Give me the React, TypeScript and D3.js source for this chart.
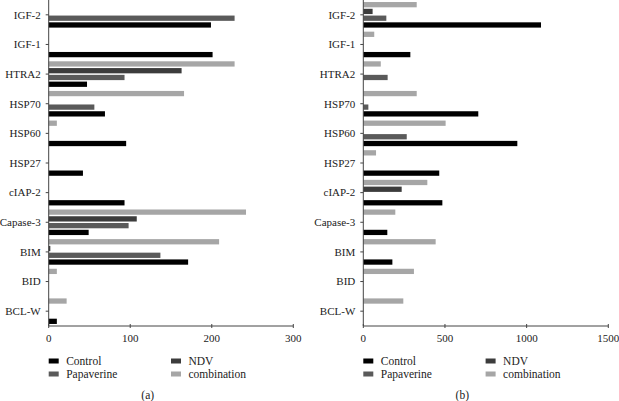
import React, { useEffect } from "react";
import * as d3 from "d3";

const categories = ["IGF-2", "IGF-1", "HTRA2", "HSP70", "HSP60", "HSP27", "cIAP-2", "Capase-3", "BIM", "BID", "BCL-W"];
const seriesNames = ["combination", "NDV", "Papaverine", "Control"];

const leftControl = [199, 201, 47, 69, 95, 42, 93, 49, 171, 0, 10];
const leftPapaverine = [228, 0, 93, 56, 0, 0, 0, 98, 137, 0, 0];
const leftNDV = [0, 0, 163, 0, 0, 0, 0, 108, 2, 0, 0];
const leftCombination = [0, 0, 228, 166, 10, 0, 0, 242, 209, 10, 22];
const leftTicks = [0, 100, 200, 300];

const rightControl = [1088, 288, 0, 704, 943, 465, 484, 147, 178, 0, 0];
const rightPapaverine = [141, 0, 149, 31, 266, 0, 0, 0, 0, 0, 0];
const rightNDV = [57, 0, 0, 0, 0, 0, 235, 0, 0, 0, 0];
const rightCombination = [327, 67, 107, 327, 504, 78, 392, 196, 443, 310, 245];
const rightTicks = [0, 500, 1000, 1500];

const colors: Record<string, string> = {
  Control: "#000000",
  Papaverine: "#5a5a5a",
  NDV: "#3c3c3c",
  combination: "#a6a6a6",
};

const FONT = "Liberation Serif, Times New Roman, DejaVu Serif, serif";

type PanelProps = {
  x0: number;
  x1: number;
  maxVal: number;
  ticks: number[];
  data: Record<string, number[]>;
  label: string;
};

const textStyle = (size: number): React.CSSProperties => ({ fontFamily: FONT, fontSize: size + "px" });

function Panel({ x0, x1, maxVal, ticks, data, label }: PanelProps) {
  const x = d3.scaleLinear().domain([0, maxVal]).range([x0, x1]);
  const y = d3.scaleBand<string>().domain(categories).range([0, 326]).paddingInner(0).paddingOuter(0);
  const sub = d3.scaleBand<string>().domain(seriesNames).range([0, y.bandwidth()]).paddingInner(0.22).paddingOuter(0.3);
  const axisY = 326;
  const legendItems = [
    { name: "Control", dx: 0, row: 0 },
    { name: "Papaverine", dx: 0, row: 1 },
    { name: "NDV", dx: 122.3, row: 0 },
    { name: "combination", dx: 122.3, row: 1 },
  ];
  return (
    <g>
      {categories.map((c, i) =>
        seriesNames.map((s) => {
          const v = data[s][i];
          if (!v) return null;
          return (
            <rect
              key={c + s}
              x={x(0)}
              y={(y(c) as number) + (sub(s) as number)}
              width={x(v) - x(0)}
              height={sub.bandwidth()}
              fill={colors[s]}
            />
          );
        })
      )}
      <line x1={x0} x2={x0} y1={0} y2={axisY} stroke="#444" strokeWidth={1} />
      <line x1={x0} x2={x1} y1={axisY} y2={axisY} stroke="#444" strokeWidth={1} />
      {categories.map((c) => {
        const cy = (y(c) as number) + y.bandwidth() / 2;
        return (
          <g key={c}>
            <line x1={x0 - 3} x2={x0} y1={cy} y2={cy} stroke="#444" />
            <text x={x0 - 8} y={cy} dy="0.35em" textAnchor="end" style={textStyle(11)} fill="#222">
              {c}
            </text>
          </g>
        );
      })}
      {ticks.map((t) => (
        <g key={t}>
          <line x1={x(t)} x2={x(t)} y1={axisY - 2} y2={axisY + 2} stroke="#444" />
          <text x={x(t)} y={axisY + 12} dy="0.35em" textAnchor="middle" style={textStyle(11)} fill="#222">
            {t}
          </text>
        </g>
      ))}
      {legendItems.map((l) => (
        <g key={l.name}>
          <rect x={x0 + l.dx} y={358.5 + l.row * 13} width={10} height={5} fill={colors[l.name]} />
          <text x={x0 + l.dx + 17.5} y={361 + l.row * 13} dy="0.35em" style={textStyle(11.5)} fill="#222">
            {l.name}
          </text>
        </g>
      ))}
      <text x={x0 + 99} y={395} dy="0.35em" textAnchor="middle" style={textStyle(11.5)} fill="#222">
        {label}
      </text>
    </g>
  );
}

export default function App() {
  useEffect(() => {
    document.body.style.margin = "0";
  }, []);
  const leftData = {
    Control: leftControl,
    Papaverine: leftPapaverine,
    NDV: leftNDV,
    combination: leftCombination,
  };
  const rightData = {
    Control: rightControl,
    Papaverine: rightPapaverine,
    NDV: rightNDV,
    combination: rightCombination,
  };
  return (
    <svg width={619} height={401} style={{ display: "block", background: "#fff" }}>
      <rect width={619} height={401} fill="#fff" />
      <Panel x0={48.7} x1={293.3} maxVal={300} ticks={leftTicks} data={leftData} label="(a)" />
      <Panel x0={363.3} x1={608.3} maxVal={1500} ticks={rightTicks} data={rightData} label="(b)" />
    </svg>
  );
}
